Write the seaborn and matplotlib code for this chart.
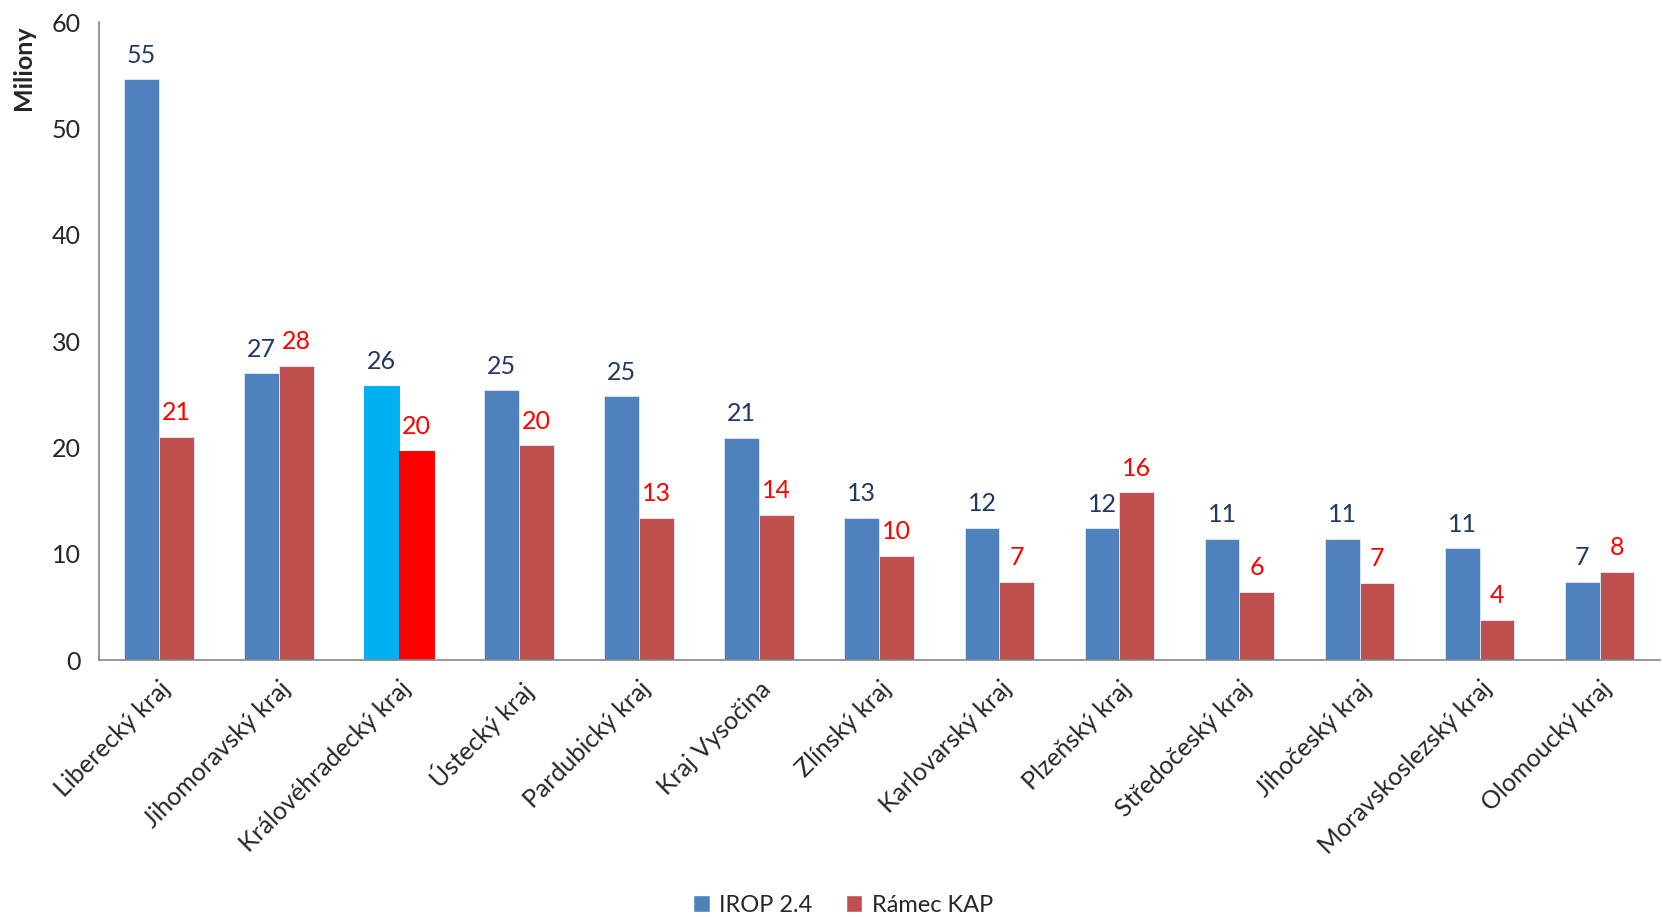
import pandas as pd
import matplotlib
matplotlib.use('Agg')
import matplotlib.pyplot as plt
import seaborn as sns
from matplotlib.patches import Patch

# data (millions)
kraje = ['Liberecký kraj', 'Jihomoravský kraj', 'Královéhradecký kraj', 'Ústecký kraj',
         'Pardubický kraj', 'Kraj Vysočina', 'Zlínský kraj', 'Karlovarský kraj',
         'Plzeňský kraj', 'Středočeský kraj', 'Jihočeský kraj', 'Moravskoslezský kraj',
         'Olomoucký kraj']
irop = [54.6, 27.0, 25.8, 25.4, 24.8, 20.9, 13.4, 12.45, 12.4, 11.4, 11.4, 10.55, 7.4]
kap = [21.0, 27.7, 19.7, 20.2, 13.4, 13.7, 9.8, 7.4, 15.8, 6.45, 7.3, 3.8, 8.3]
serie = ['IROP 2.4', 'Rámec KAP']
highlight = 'Královéhradecký kraj'

c_blue = '#4F81BD'
c_red = '#C0504D'
c_hl_blue = '#00B0F0'
c_hl_red = '#FF0000'
c_lab_blue = '#1F3864'
c_lab_red = '#FF0000'

df = pd.DataFrame({
    'kraj': kraje * 2,
    'serie': [serie[0]] * len(kraje) + [serie[1]] * len(kraje),
    'hodnota': irop + kap,
})

sns.set_style('white')
plt.rcParams['font.family'] = ['Lato', 'DejaVu Sans']
fs = 18

fig = plt.figure(figsize=(16.63, 9.17), dpi=100)
ax = fig.add_axes([0.0595, 0.280, 0.9385, 0.696])

sns.barplot(data=df, x='kraj', y='hodnota', hue='serie', order=kraje,
            hue_order=serie, palette=[c_blue, c_red], saturation=1, width=0.58,
            dodge=True, errorbar=None, edgecolor='#dbe4f0', linewidth=0.7,
            legend=False, ax=ax)

hi = kraje.index(highlight)
for cont, hc, lc, vals in zip(ax.containers, [c_hl_blue, c_hl_red],
                              [c_lab_blue, c_lab_red], [irop, kap]):
    bar = cont.patches[hi]
    bar.set_facecolor(hc)
    bar.set_edgecolor(hc)
    for b, v in zip(cont.patches, vals):
        ax.annotate(f'{v:.0f}', (b.get_x() + b.get_width() / 2, b.get_height()),
                    xytext=(0, 9), textcoords='offset points', ha='center',
                    va='bottom', fontsize=fs, color=lc)

ax.set_ylim(0, 60)
ax.set_yticks(range(0, 61, 10))
ax.set_xlim(-0.5, len(kraje) - 0.5)
ax.set_xlabel('')
ax.set_ylabel('Miliony', fontsize=fs, fontweight='bold')
ax.yaxis.set_label_coords(-0.041, 0.928)

# Excel-like ticks between categories
ax.set_xticks([i - 0.5 for i in range(len(kraje) + 1)], minor=True)
ax.tick_params(axis='x', which='major', length=0, pad=12)
ax.tick_params(axis='x', which='minor', length=7, width=1.2, color='#868686', direction='out')
ax.tick_params(axis='y', length=7, width=1.2, color='#868686', direction='out',
               labelsize=fs, pad=6)
plt.setp(ax.get_xticklabels(), rotation=45, ha='right', rotation_mode='anchor', fontsize=fs)

sns.despine(ax=ax)
for s in ['left', 'bottom']:
    ax.spines[s].set_color('#868686')
    ax.spines[s].set_linewidth(1.2)

handles = [Patch(facecolor=c_blue), Patch(facecolor=c_red)]
fig.legend(handles, serie, loc='lower center', bbox_to_anchor=(0.507, -0.022), ncol=2,
           frameon=False, fontsize=17, handlelength=0.7, handleheight=0.7,
           handletextpad=0.4, columnspacing=1.4)

fig.savefig('out.png', dpi=100)
